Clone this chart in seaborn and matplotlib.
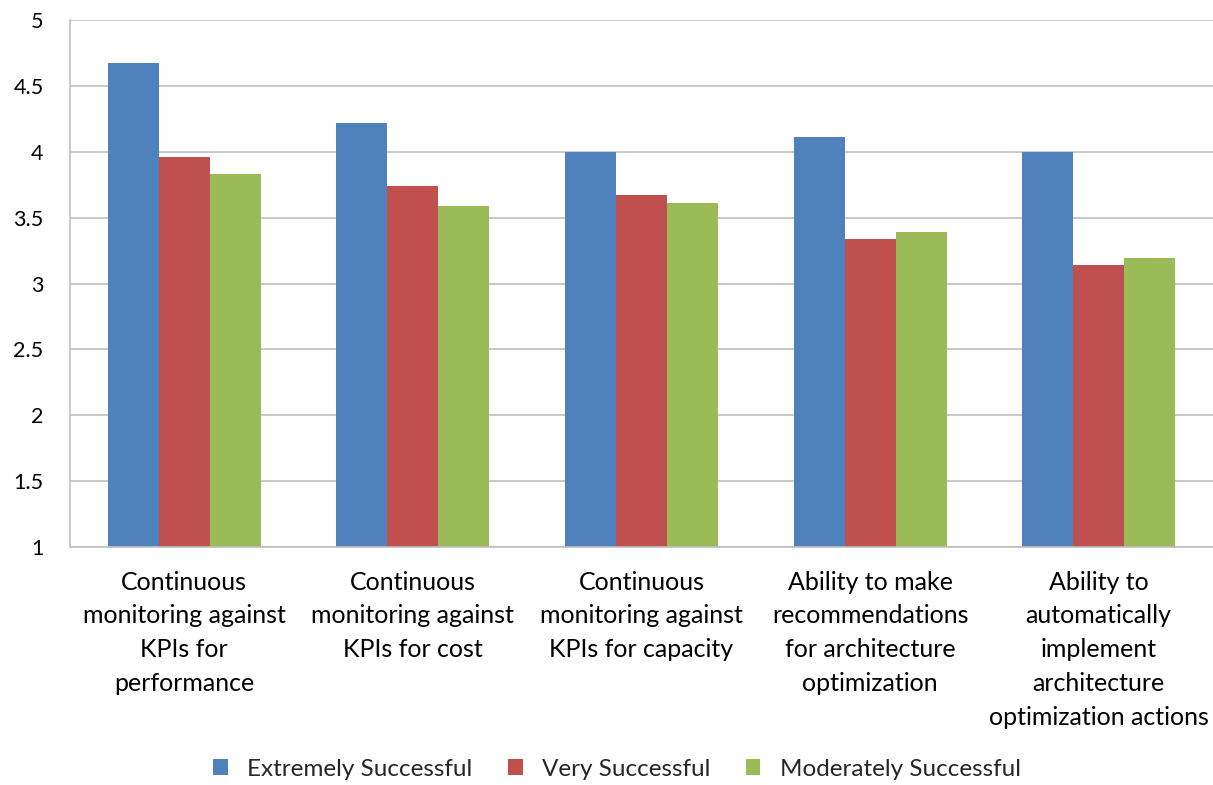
import matplotlib
matplotlib.use("Agg")
import matplotlib.pyplot as plt
import pandas as pd
import seaborn as sns

categories = [
    "Continuous\nmonitoring against\nKPIs for\nperformance",
    "Continuous\nmonitoring against\nKPIs for cost",
    "Continuous\nmonitoring against\nKPIs for capacity",
    "Ability to make\nrecommendations\nfor architecture\noptimization",
    "Ability to\nautomatically\nimplement\narchitecture\noptimization actions",
]
series_names = ["Extremely Successful", "Very Successful", "Moderately Successful"]
extremely = [4.67, 4.22, 4.00, 4.11, 4.00]
very = [3.96, 3.74, 3.67, 3.34, 3.14]
moderately = [3.83, 3.59, 3.61, 3.39, 3.19]
y_ticks = [1, 1.5, 2, 2.5, 3, 3.5, 4, 4.5, 5]
colors = ["#4F81BD", "#C0504D", "#9BBB59"]

rows = []
for name, vals in zip(series_names, [extremely, very, moderately]):
    for cat, v in zip(categories, vals):
        rows.append({"category": cat, "series": name, "value": v})
df = pd.DataFrame(rows)

sns.set_theme(style="white")
plt.rcParams["font.family"] = ["Lato", "DejaVu Sans"]

fig = plt.figure(figsize=(12.13, 7.85), dpi=100)
ax = fig.add_axes([70 / 1213, 1 - 547 / 785, 1 - 70 / 1213, (547 - 20) / 785])

sns.barplot(
    data=df, x="category", y="value", hue="series",
    order=categories, hue_order=series_names, palette=colors,
    width=0.67, saturation=1, ax=ax, legend=True,
    edgecolor="none", linewidth=0,
)

# Bars start from the axis floor at 1
ax.set_ylim(1, 5)
ax.set_xlim(-0.5, len(categories) - 0.5)
ax.set_yticks(y_ticks)
ax.set_yticklabels([f"{t:g}" for t in y_ticks])
ax.set_xlabel("")
ax.set_ylabel("")
ax.yaxis.grid(True, color="#BFBFBF", linewidth=1.2)
ax.set_axisbelow(True)
for s in ["top", "right"]:
    ax.spines[s].set_visible(False)
for s in ["left", "bottom"]:
    ax.spines[s].set_color("#BFBFBF")
    ax.spines[s].set_linewidth(1.2)
ax.tick_params(axis="both", length=0, colors="black")
ax.tick_params(axis="y", pad=19, labelsize=15.5)
ax.tick_params(axis="x", pad=17, labelsize=18)
for lbl in ax.get_xticklabels():
    lbl.set_linespacing(1.57)
    lbl.set_verticalalignment("top")

handles, labels = ax.get_legend_handles_labels()
ax.get_legend().remove()
fig.legend(
    handles, labels, loc="center", bbox_to_anchor=(617 / 1213, 1 - 769 / 785), ncol=3,
    frameon=False, fontsize=17.5, handlelength=0.6, handleheight=0.6,
    handletextpad=0.8, columnspacing=1.45,
)

fig.savefig("out.png", dpi=100)
